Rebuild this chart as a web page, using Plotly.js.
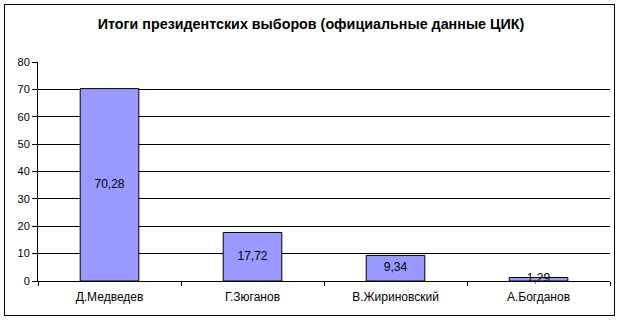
<!DOCTYPE html>
<html><head><meta charset="utf-8">
<script src="https://cdn.plot.ly/plotly-3.0.1.min.js"></script>
<style>html,body{margin:0;padding:0;background:#fff}#wrap{position:relative;width:624px;height:323px}#c{width:624px;height:323px}
#frame{position:absolute;left:4px;top:4px;width:611px;height:312px;border:1px solid #000;box-sizing:border-box;pointer-events:none}</style>
</head><body><div id="wrap"><div id="c"></div><div id="frame"></div></div>
<script>
const categories = ["Д.Медведев", "Г.Зюганов", "В.Жириновский", "А.Богданов"];
const values = [70.28, 17.72, 9.34, 1.29];
const titleText = "Итоги президентских выборов (официальные данные ЦИК)";
const fmt = v => v.toFixed(2).replace('.', ',');

const bars = {
  type: 'bar', x: categories, y: values, width: 0.41,
  marker: {color: '#9999FF', line: {color: '#000', width: 1}},
  hoverinfo: 'skip'
};
const labels = {
  type: 'scatter', mode: 'text', x: categories, y: values.map(v => v / 2),
  text: values.map(fmt), textfont: {family: 'Liberation Sans, Arial', size: 12, color: '#000'},
  hoverinfo: 'skip', cliponaxis: false
};
const L = 38, R = 610, T = 62, B = 281, W = 624, H = 323;
const layout = {
  width: W, height: H, showlegend: false,
  margin: {l: L, r: W - R, t: T, b: H - B},
  paper_bgcolor: '#fff', plot_bgcolor: '#fff',
  font: {family: 'Liberation Sans, Arial', size: 11, color: '#000'},
  title: {text: titleText, font: {family: 'Liberation Sans, Arial', size: 14.3, color: '#000', weight: 'bold'},
          x: 311 / W, xref: 'container', xanchor: 'center', y: 1 - 24 / H, yref: 'container', yanchor: 'middle'},
  xaxis: {type: 'category', range: [-0.5, 3.5], showgrid: false, showline: true, linecolor: '#000', linewidth: 1,
          ticks: 'outside', tickson: 'boundaries', ticklen: 4, tickcolor: '#000', tickfont: {size: 12},
          ticklabelstandoff: 5},
  yaxis: {range: [0, 80], dtick: 10, showgrid: true, gridcolor: '#000', gridwidth: 1, showline: true,
          linecolor: '#000', linewidth: 1, ticks: 'outside', ticklen: 5, tickcolor: '#000', zeroline: false,
          tickfont: {size: 11}, fixedrange: true}
};
Plotly.newPlot('c', [bars, labels], layout, {staticPlot: true, displayModeBar: false});
</script></body></html>
